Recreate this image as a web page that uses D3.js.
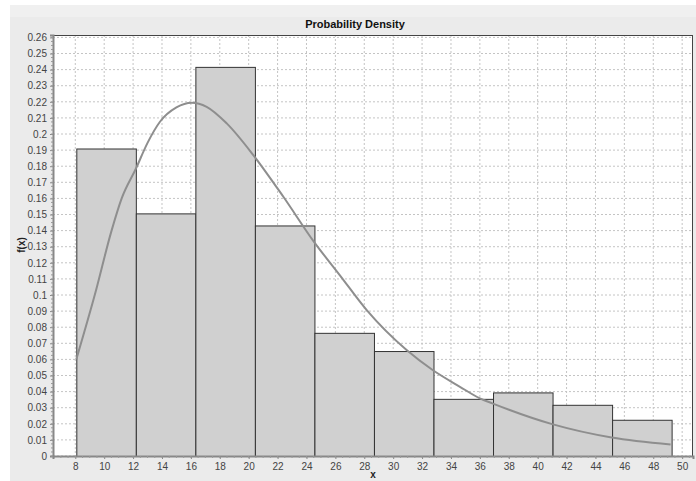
<!DOCTYPE html>
<html><head><meta charset="utf-8">
<script src="https://cdn.jsdelivr.net/npm/d3@7"></script>
<style>
html,body{margin:0;padding:0;background:#fff;}
text{font-family:"Liberation Sans",Arial,sans-serif;}
</style></head>
<body>
<svg id="c" width="696" height="481"></svg>
<script>
// Histogram bins (edges) and densities
const binEdges = [8.07, 12.19, 16.31, 20.43, 24.55, 28.67, 32.79, 36.91, 41.03, 45.15, 49.27];
const densities = [0.191, 0.1507, 0.2417, 0.1432, 0.0765, 0.0652, 0.0355, 0.0395, 0.0318, 0.0225];
// Fitted curve points
const curveX = [8.07, 9.36, 10.52, 11.21, 12.2, 13.0, 13.86, 15.0, 16.06, 17.09, 18.48, 20.32, 22.4, 24.52, 26.3, 28.17, 30.93, 32.73, 34.62, 36.0, 36.86, 41.0, 45.12, 49.2];
const curveY = [0.060, 0.1004, 0.1403, 0.160, 0.1786, 0.1945, 0.2076, 0.2165, 0.2194, 0.2169, 0.2066, 0.1869, 0.161, 0.133, 0.1124, 0.0906, 0.0658, 0.0534, 0.043, 0.0358, 0.0327, 0.0198, 0.0115, 0.0072];
const xTicks = d3.range(8, 51, 2);
const yTicks = d3.range(0, 27).map(i => +(i * 0.01).toFixed(2));
const title = "Probability Density";
const xLabel = "x";
const yLabel = "f(x)";

const svg = d3.select("#c");
const L = 53, R = 693, T = 35, B = 456;

svg.append("rect").attr("x", 10).attr("y", 5).attr("width", 686).attr("height", 476).attr("fill", "#ebebeb");
svg.append("rect").attr("x", 10).attr("y", 5).attr("width", 686).attr("height", 12).attr("fill", "#f0f0f0");

const x = d3.scaleLinear().domain([6.457, 50.75]).range([L, R]);
const y = d3.scaleLinear().domain([0, 0.2615]).range([B, T]);

svg.append("rect").attr("x", L).attr("y", T).attr("width", R - L).attr("height", B - T).attr("fill", "#fff");

// grid
const g = svg.append("g");
g.selectAll(".gx").data(xTicks).enter().append("line")
  .attr("x1", d => x(d)).attr("x2", d => x(d)).attr("y1", T).attr("y2", B)
  .attr("stroke", "#c4c4c4").attr("stroke-dasharray", "2,2");
g.selectAll(".gy").data(yTicks).enter().append("line")
  .attr("y1", d => y(d)).attr("y2", d => y(d)).attr("x1", L).attr("x2", R)
  .attr("stroke", "#c4c4c4").attr("stroke-dasharray", "2,2");

// bars
const bins = densities.map((v, i) => ({x0: binEdges[i], x1: binEdges[i + 1], v}));
svg.append("g").selectAll("rect").data(bins).enter().append("rect")
  .attr("x", d => x(d.x0) + 0.5).attr("y", d => y(d.v) + 0.5)
  .attr("width", d => x(d.x1) - x(d.x0)).attr("height", d => y(0) - y(d.v))
  .attr("fill", "#d0d0d0").attr("stroke", "#333").attr("stroke-width", 1);

// curve
const pts = curveX.map((v, i) => [v, curveY[i]]);
svg.append("path").datum(pts)
  .attr("d", d3.line().x(d => x(d[0])).y(d => y(d[1])).curve(d3.curveMonotoneX))
  .attr("fill", "none").attr("stroke", "#8e8e8e").attr("stroke-width", 2);

// border
svg.append("rect").attr("x", L + 0.5).attr("y", T + 0.5).attr("width", R - L - 1).attr("height", B - T)
  .attr("fill", "none").attr("stroke", "#444");

// axes
const xa = svg.append("g").attr("transform", `translate(0,${B})`)
  .call(d3.axisBottom(x).tickValues(xTicks).tickSize(3).tickPadding(4).tickFormat(d3.format("d")));
const ya = svg.append("g").attr("transform", `translate(${L},0)`)
  .call(d3.axisLeft(y).tickValues(yTicks).tickSize(3).tickPadding(3).tickFormat(d => d === 0 ? "0" : String(d)));
[xa, ya].forEach(a => {
  a.select(".domain").attr("stroke", "#888").attr("stroke-width", 2);
  a.selectAll(".tick line").attr("stroke", "#888");
  a.selectAll("text").attr("fill", "#444").attr("font-size", "10px").attr("font-family", "Liberation Sans, Arial, sans-serif");
});
// minor ticks
svg.append("g").selectAll("line").data(d3.range(7, 51, 0.5)).enter().append("line")
  .attr("x1", d => x(d)).attr("x2", d => x(d)).attr("y1", B).attr("y2", B + 2).attr("stroke", "#999");
svg.append("g").selectAll("line").data(d3.range(0, 0.261, 0.0025)).enter().append("line")
  .attr("y1", d => y(d)).attr("y2", d => y(d)).attr("x1", L - 2).attr("x2", L).attr("stroke", "#999");

svg.append("text").attr("x", 355).attr("y", 28).attr("text-anchor", "middle")
  .attr("font-size", "11px").attr("font-weight", "bold").attr("fill", "#111").text(title);
svg.append("text").attr("x", 373).attr("y", 478).attr("text-anchor", "middle")
  .attr("font-size", "10px").attr("font-weight", "bold").attr("fill", "#222").text(xLabel);
svg.append("text").attr("transform", "translate(25,245) rotate(-90)").attr("text-anchor", "middle")
  .attr("font-size", "10px").attr("font-weight", "bold").attr("fill", "#222").text(yLabel);
</script>
</body></html>
